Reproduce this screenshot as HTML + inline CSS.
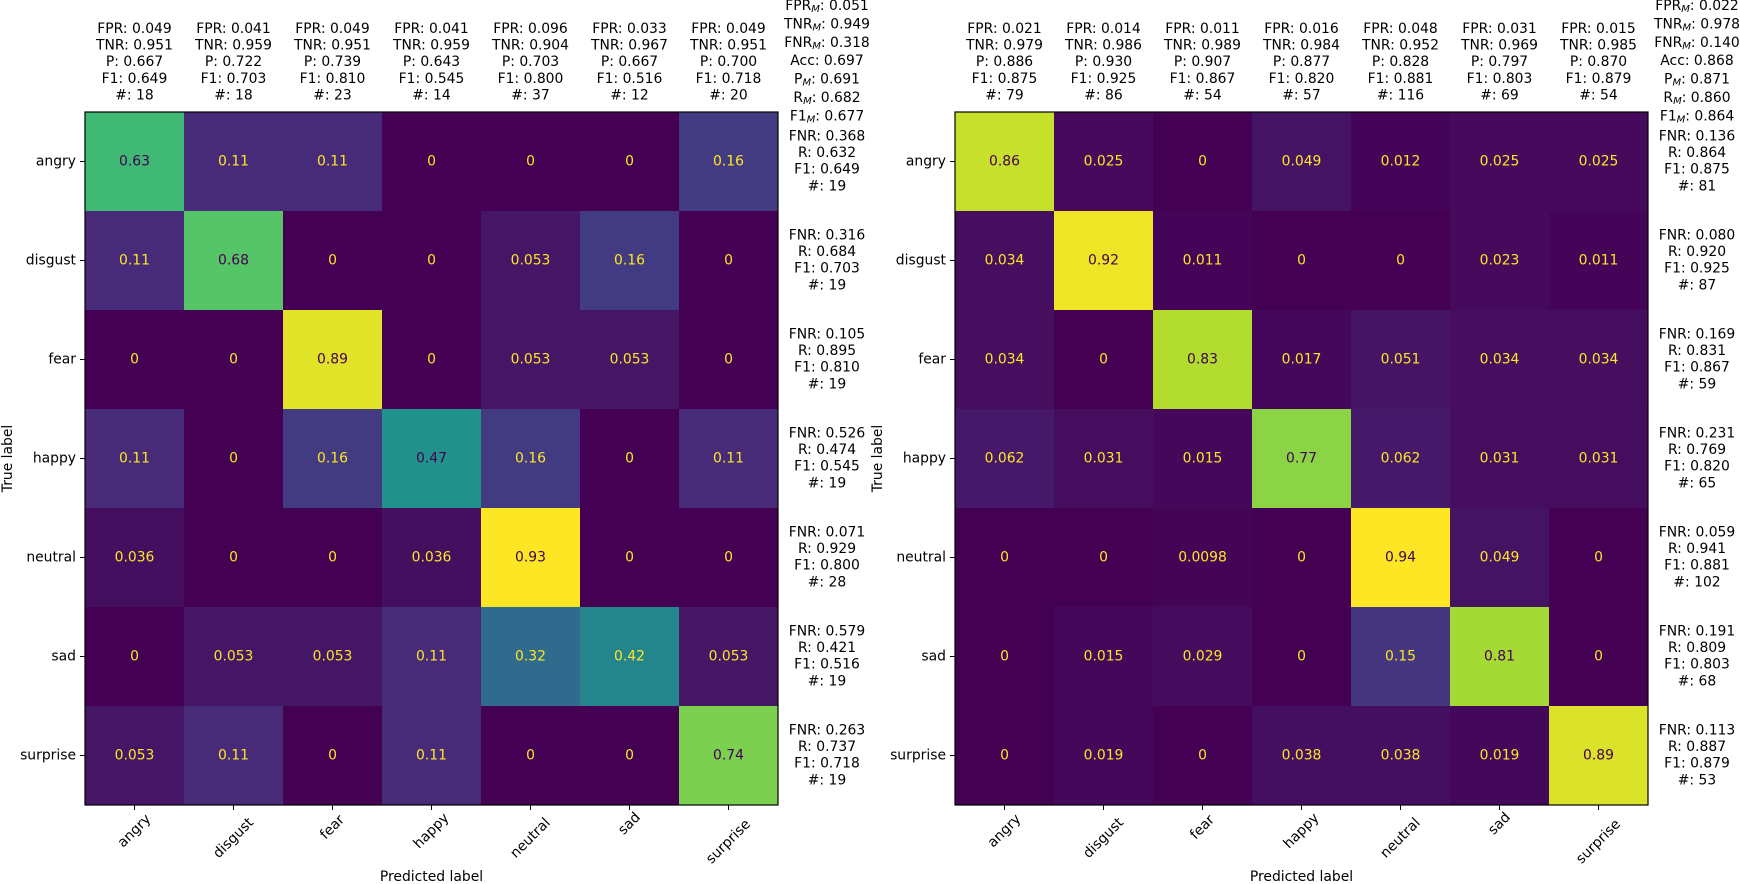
<!DOCTYPE html>
<html><head><meta charset="utf-8">
<style>
html,body{margin:0;padding:0;background:#fff;}
svg{display:block;}
text{font-family:"DejaVu Sans","Liberation Sans",sans-serif;font-size:13.9px;fill:#000;}
</style></head>
<body>
<svg id="chart" width="1740" height="884" viewBox="0 0 1740 884" xmlns="http://www.w3.org/2000/svg"></svg>
<script>
const labels = ["angry","disgust","fear","happy","neutral","sad","surprise"];
const leftMatrix = [
 [0.63,0.11,0.11,0,0,0,0.16],
 [0.11,0.68,0,0,0.053,0.16,0],
 [0,0,0.89,0,0.053,0.053,0],
 [0.11,0,0.16,0.47,0.16,0,0.11],
 [0.036,0,0,0.036,0.93,0,0],
 [0,0.053,0.053,0.11,0.32,0.42,0.053],
 [0.053,0.11,0,0.11,0,0,0.74]
];
const rightMatrix = [
 [0.86,0.025,0,0.049,0.012,0.025,0.025],
 [0.034,0.92,0.011,0,0,0.023,0.011],
 [0.034,0,0.83,0.017,0.051,0.034,0.034],
 [0.062,0.031,0.015,0.77,0.062,0.031,0.031],
 [0,0,0.0098,0,0.94,0.049,0],
 [0,0.015,0.029,0,0.15,0.81,0],
 [0,0.019,0,0.038,0.038,0.019,0.89]
];
const leftColFPR = ["0.049","0.041","0.049","0.041","0.096","0.033","0.049"];
const leftColTNR = ["0.951","0.959","0.951","0.959","0.904","0.967","0.951"];
const leftColP = ["0.667","0.722","0.739","0.643","0.703","0.667","0.700"];
const leftColF1 = ["0.649","0.703","0.810","0.545","0.800","0.516","0.718"];
const leftColN = ["18","18","23","14","37","12","20"];
const leftRowFNR = ["0.368","0.316","0.105","0.526","0.071","0.579","0.263"];
const leftRowR = ["0.632","0.684","0.895","0.474","0.929","0.421","0.737"];
const leftRowF1 = ["0.649","0.703","0.810","0.545","0.800","0.516","0.718"];
const leftRowN = ["19","19","19","19","28","19","19"];
const leftMacro = ["0.051","0.949","0.318","0.697","0.691","0.682","0.677"];
const rightColFPR = ["0.021","0.014","0.011","0.016","0.048","0.031","0.015"];
const rightColTNR = ["0.979","0.986","0.989","0.984","0.952","0.969","0.985"];
const rightColP = ["0.886","0.930","0.907","0.877","0.828","0.797","0.870"];
const rightColF1 = ["0.875","0.925","0.867","0.820","0.881","0.803","0.879"];
const rightColN = ["79","86","54","57","116","69","54"];
const rightRowFNR = ["0.136","0.080","0.169","0.231","0.059","0.191","0.113"];
const rightRowR = ["0.864","0.920","0.831","0.769","0.941","0.809","0.887"];
const rightRowF1 = ["0.875","0.925","0.867","0.820","0.881","0.803","0.879"];
const rightRowN = ["81","87","59","65","102","68","53"];
const rightMacro = ["0.022","0.978","0.140","0.868","0.871","0.860","0.864"];

const NS="http://www.w3.org/2000/svg";
const svg=document.getElementById('chart');
const VIR=["#440154","#472d7b","#3b528b","#2c728e","#21918c","#28ae80","#5ec962","#addc30","#fde725"];
function hex(h){return [1,3,5].map(i=>parseInt(h.substr(i,2),16));}
function viridis(t){t=Math.max(0,Math.min(1,t));const s=t*8;const i=Math.min(7,Math.floor(s));const f=s-i;const a=hex(VIR[i]),b=hex(VIR[i+1]);return "rgb("+a.map((v,k)=>Math.round(v+(b[k]-v)*f)).join(",")+")";}
function el(tag,attrs,parent){const e=document.createElementNS(NS,tag);for(const k in attrs)e.setAttribute(k,attrs[k]);(parent||svg).appendChild(e);return e;}
function txt(x,y,s,parent,extra){const t=el('text',Object.assign({x:x,y:y,'text-anchor':'middle','dominant-baseline':'central'},extra||{}),parent);t.textContent=s;return t;}
function sub(t,main,subs,rest){t.textContent='';const a=document.createElementNS(NS,'tspan');a.textContent=main;t.appendChild(a);const b=document.createElementNS(NS,'tspan');b.textContent=subs;b.setAttribute('font-size','10px');b.setAttribute('font-style','italic');b.setAttribute('dy','3');t.appendChild(b);const c=document.createElementNS(NS,'tspan');c.textContent=rest;c.setAttribute('dy','-3');t.appendChild(c);}

function draw(ox,mat,cFPR,cTNR,cP,cF1,cN,rFNR,rR,rF1,rN,macro,name){
  const g=el('g',{});
  
  
  const oy=112,W=693,n=labels.length,cs=W/n;
  let mx=0,mn=Infinity;mat.forEach(r=>r.forEach(v=>{mx=Math.max(mx,v);mn=Math.min(mn,v);}));
  const thr=(mx+mn)/2;
  const xs=i=>ox+cs*(i+0.5), ys=i=>oy+cs*(i+0.5);
  mat.forEach((row,i)=>row.forEach((v,j)=>{
    const r=el('rect',{x:ox+cs*j,y:oy+cs*i,width:cs+0.5,height:cs+0.5,fill:viridis((v-mn)/(mx-mn))},g);
    
    
    const t=txt(xs(j),ys(i),String(v),g,{style:'fill:'+(v>thr?'#440154':'#fde725')});
    
    
  }));
  const fr=el('rect',{x:ox,y:oy,width:W,height:W,fill:'none',stroke:'#000','stroke-width':1.2},g);
  
  
  labels.forEach((lab,i)=>{
    el('line',{x1:ox-5,x2:ox,y1:ys(i),y2:ys(i),stroke:'#000','stroke-width':1},g);
    const yl=txt(ox-9,ys(i),lab,g,{'text-anchor':'end'});
    
    
    el('line',{x1:xs(i),x2:xs(i),y1:oy+W,y2:oy+W+5,stroke:'#000','stroke-width':1},g);
    const cx=xs(i),cy=oy+W+8+lab.length*3.6;
    const xl=txt(cx,cy,lab,g,{transform:'rotate(-45 '+cx+' '+cy+')'});
    
    
    const colLines=["FPR: "+cFPR[i],"TNR: "+cTNR[i],"P: "+cP[i],"F1: "+cF1[i],"#: "+cN[i]];
    colLines.forEach((s,k)=>{const t=txt(cx,29+k*16.6,s,g);
      
      });
    const rowLines=["FNR: "+rFNR[i],"R: "+rR[i],"F1: "+rF1[i],"#: "+rN[i]];
    rowLines.forEach((s,k)=>{const t=txt(ox+W+49,ys(i)-25+k*16.6,s,g);
      
      });
  });
  const mnames=[["FPR","M",": "],["TNR","M",": "],["FNR","M",": "],["Acc","",": "],["P","M",": "],["R","M",": "],["F1","M",": "]];
  mnames.forEach((m,k)=>{const t=txt(ox+W+49,6+k*18.4,'',g);
    if(m[1])sub(t,m[0],m[1],m[2]+macro[k]);else t.textContent=m[0]+m[2]+macro[k];
    
    });
  const xt=txt(ox+W/2,877,'Predicted label',g);
  
  
  const yx=ox-77,yy=oy+W/2;
  const yt=txt(yx,yy,'True label',g,{transform:'rotate(-90 '+yx+' '+yy+')'});
  
  
}
draw(85,leftMatrix,leftColFPR,leftColTNR,leftColP,leftColF1,leftColN,leftRowFNR,leftRowR,leftRowF1,leftRowN,leftMacro,'left-confusion-matrix');
draw(955,rightMatrix,rightColFPR,rightColTNR,rightColP,rightColF1,rightColN,rightRowFNR,rightRowR,rightRowF1,rightRowN,rightMacro,'right-confusion-matrix');
</script>
</body></html>
